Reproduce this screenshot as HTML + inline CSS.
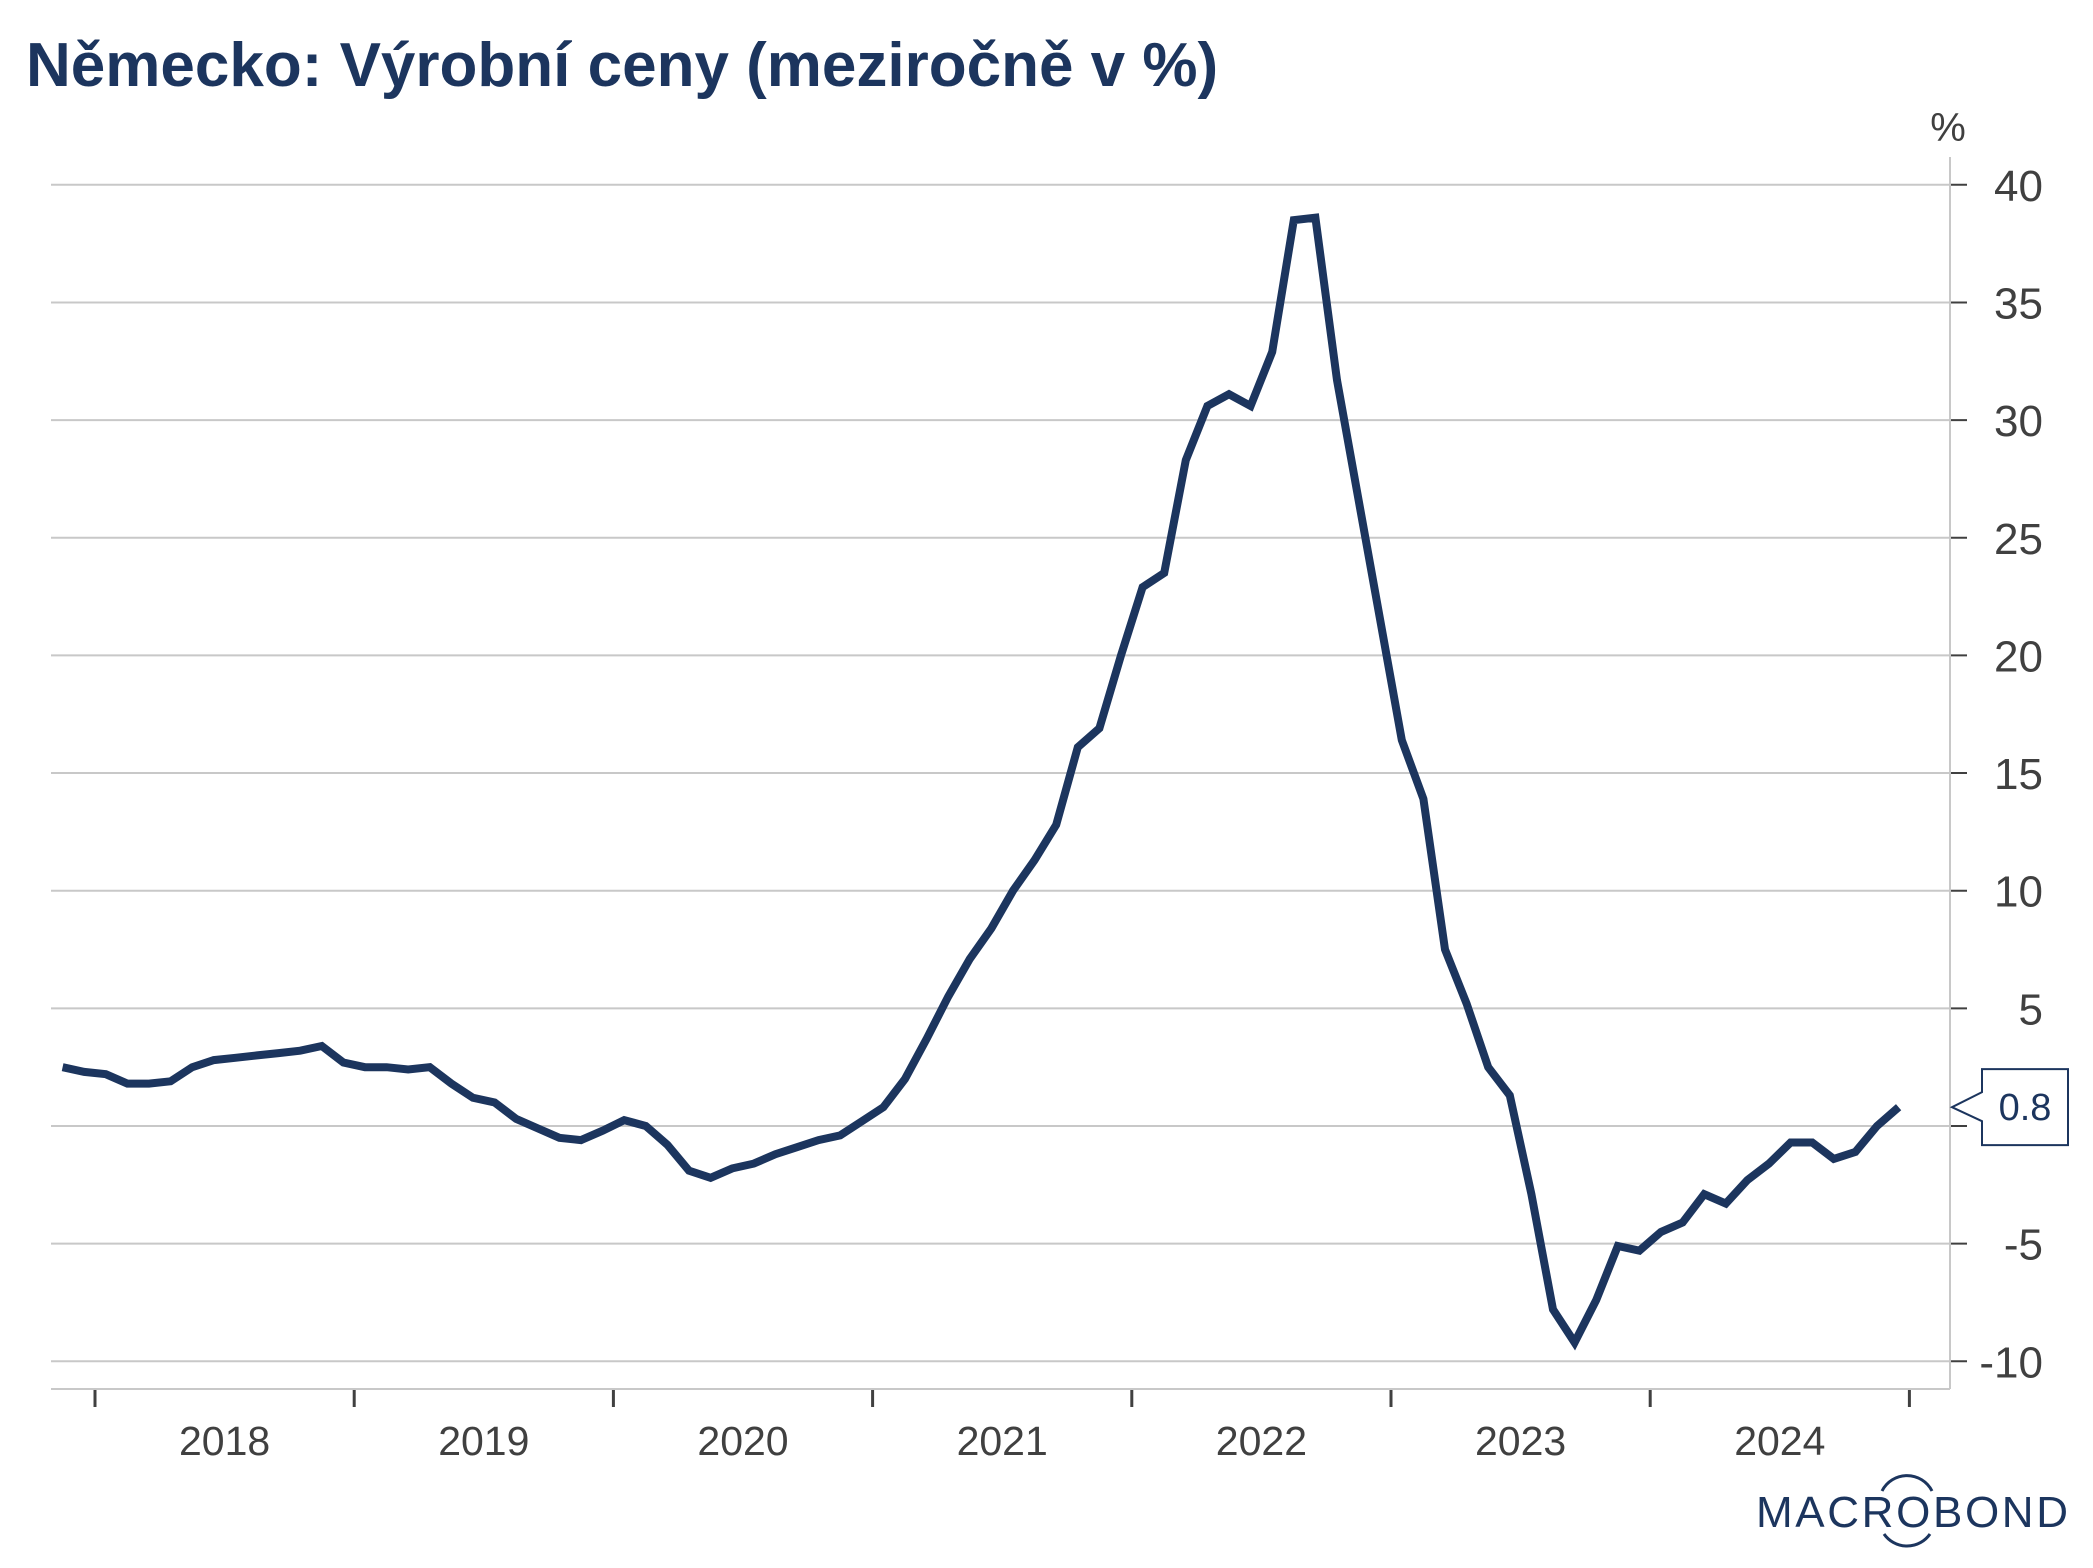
<!DOCTYPE html>
<html><head><meta charset="utf-8"><style>
html,body{margin:0;padding:0;background:#fff;}
svg{display:block;font-family:"Liberation Sans",sans-serif;}
</style></head><body>
<svg id="chart" width="2093" height="1568" viewBox="0 0 2093 1568">
<text x="26" y="86" font-size="62" font-weight="bold" fill="#1c355e">Německo: Výrobní ceny (meziročně v %)</text>
<text x="1948" y="141" font-size="40" fill="#404040" text-anchor="middle">%</text>
<g id="grid"></g>
<line x1="1950" y1="157" x2="1950" y2="1389" stroke="#c8c8c8" stroke-width="2"/>
<line x1="51" y1="1389" x2="1950" y2="1389" stroke="#c8c8c8" stroke-width="2"/>
<g id="xaxis"></g>
<path id="series" fill="none" stroke="#1c355e" stroke-width="8" stroke-linejoin="miter"/>
<g>
<path id="callout" fill="#fff" stroke="#1c355e" stroke-width="2"/>
<text id="callout-text" x="2025" y="1120" font-size="38" fill="#1c355e" text-anchor="middle">0.8</text>
</g>
<g>
<text x="1756" y="1527" font-size="44" fill="#1c355e" textLength="312" lengthAdjust="spacing">MACROBOND</text>
<path d="M1882 1491 A28 28 0 0 1 1932 1491" fill="none" stroke="#1c355e" stroke-width="3"/>
<path d="M1884 1534 A28 28 0 0 0 1930 1534" fill="none" stroke="#1c355e" stroke-width="3"/>
</g>
</svg>
<script>
const values=[2.5,2.3,2.2,1.8,1.8,1.9,2.5,2.8,2.9,3.0,3.1,3.2,3.4,2.7,2.5,2.5,2.4,2.5,1.8,1.2,1.0,0.3,-0.1,-0.5,-0.6,-0.2,0.25,0.0,-0.8,-1.9,-2.2,-1.8,-1.6,-1.2,-0.9,-0.6,-0.4,0.2,0.8,2.0,3.7,5.5,7.1,8.4,10.0,11.3,12.8,16.1,16.9,20.0,22.9,23.5,28.3,30.6,31.1,30.6,32.9,38.5,38.6,31.7,26.6,21.5,16.4,13.9,7.5,5.2,2.5,1.3,-2.9,-7.8,-9.2,-7.4,-5.1,-5.3,-4.5,-4.1,-2.9,-3.3,-2.3,-1.6,-0.7,-0.7,-1.4,-1.1,0.0,0.8];
const yTicks=[40,35,30,25,20,15,10,5,0,-5,-10];
const yTickLabels=["40","35","30","25","20","15","10","5","","-5","-10"];
const years=["2018","2019","2020","2021","2022","2023","2024"];
const startMonth=-2; // Nov 2017 relative to Jan 2018
const lastLabel="0.8";
const NS="http://www.w3.org/2000/svg";
function yPos(v){return 1126-v*23.53;}
function xm(m){return 95+m*21.6;}
function mk(t,a){const e=document.createElementNS(NS,t);for(const k in a)e.setAttribute(k,a[k]);return e;}
const grid=document.getElementById('grid');
yTicks.forEach((v,i)=>{
 const y=yPos(v);
 const l=mk('line',{x1:51,x2:1950,y1:y,y2:y,stroke:'#c8c8c8','stroke-width':2});
 
 
 grid.appendChild(l);
 const t=mk('line',{x1:1950,x2:1967,y1:y,y2:y,stroke:'#404040','stroke-width':2});
 
 
 grid.appendChild(t);
 const tx=mk('text',{x:2043,y:y+16,'font-size':44,fill:'#404040','text-anchor':'end'});
 tx.textContent=yTickLabels[i];
 
 
 grid.appendChild(tx);
});
const xa=document.getElementById('xaxis');
for(let k=0;k<=years.length;k++){
 const x=xm(k*12);
 const t=mk('line',{x1:x,x2:x,y1:1390,y2:1407,stroke:'#404040','stroke-width':3});
 
 
 xa.appendChild(t);
 if(k<years.length){
  const tx=mk('text',{x:xm(k*12+6),y:1455,'font-size':41,fill:'#404040','text-anchor':'middle'});
  tx.textContent=years[k];
  
  
  xa.appendChild(tx);
 }
}
let d='';
values.forEach((v,i)=>{const x=xm(startMonth+i+0.5);d+=(i?'L':'M')+x.toFixed(1)+' '+yPos(v).toFixed(1);});
document.getElementById('series').setAttribute('d',d);
const ly=yPos(values[values.length-1]);
document.getElementById('callout').setAttribute('d',`M1952 ${ly} L1982 ${ly-15} L1982 ${ly-38} L2068 ${ly-38} L2068 ${ly+38} L1982 ${ly+38} L1982 ${ly+14} Z`);
const ct=document.getElementById('callout-text');ct.setAttribute('y',ly+13);ct.textContent=lastLabel;
</script>
</body></html>
